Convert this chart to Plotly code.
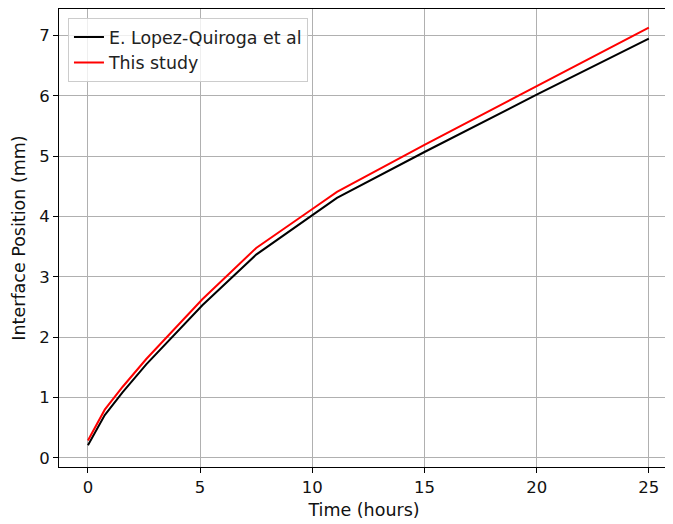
import plotly.graph_objects as go

# Data
lopez_time = [0, 0.75, 1.55, 2.6, 5.1, 7.5, 10.1, 11.1, 15, 20, 25]
lopez_pos = [0.21, 0.71, 1.09, 1.55, 2.53, 3.37, 4.05, 4.31, 5.07, 6.02, 6.95]
study_time = [0, 0.75, 1.55, 2.6, 5.1, 7.5, 10.1, 11.1, 15, 20, 25]
study_pos = [0.29, 0.80, 1.18, 1.64, 2.63, 3.48, 4.15, 4.41, 5.19, 6.16, 7.13]

x_ticks = [0, 5, 10, 15, 20, 25]
y_ticks = [0, 1, 2, 3, 4, 5, 6, 7]

fig = go.Figure()
fig.add_trace(go.Scatter(x=lopez_time, y=lopez_pos, mode="lines",
                         name="E. Lopez-Quiroga et al",
                         line=dict(color="black", width=2)))
fig.add_trace(go.Scatter(x=study_time, y=study_pos, mode="lines",
                         name="This study",
                         line=dict(color="red", width=2)))

axis_common = dict(showline=True, linecolor="black", linewidth=1, mirror=True,
                   ticks="outside", ticklen=5, tickcolor="black",
                   showgrid=True, gridcolor="#b0b0b0", gridwidth=1,
                   zeroline=False,
                   tickfont=dict(family="DejaVu Sans", size=16.5, color="#111111"))

fig.update_layout(
    width=665, height=516,
    margin=dict(l=51, r=4, t=1, b=57),
    paper_bgcolor="white", plot_bgcolor="white",
    font=dict(family="DejaVu Sans", size=17, color="#111111"),
    xaxis=dict(range=[-1.29, 25.9], tickvals=x_ticks,
               title=dict(text="Time (hours)", font=dict(size=17.5), standoff=7),
               **axis_common),
    yaxis=dict(range=[-0.15, 7.44], tickvals=y_ticks,
               title=dict(text="Interface Position (mm)", font=dict(size=17.5), standoff=9),
               **axis_common),
    legend=dict(x=0.0147, y=0.98, xanchor="left", yanchor="top",
                bgcolor="rgba(255,255,255,0.8)", bordercolor="#cccccc", borderwidth=1,
                font=dict(family="DejaVu Sans", size=17.4, color="#222222"),
                tracegroupgap=2),
    showlegend=True,
)

fig.write_html("out.html")
